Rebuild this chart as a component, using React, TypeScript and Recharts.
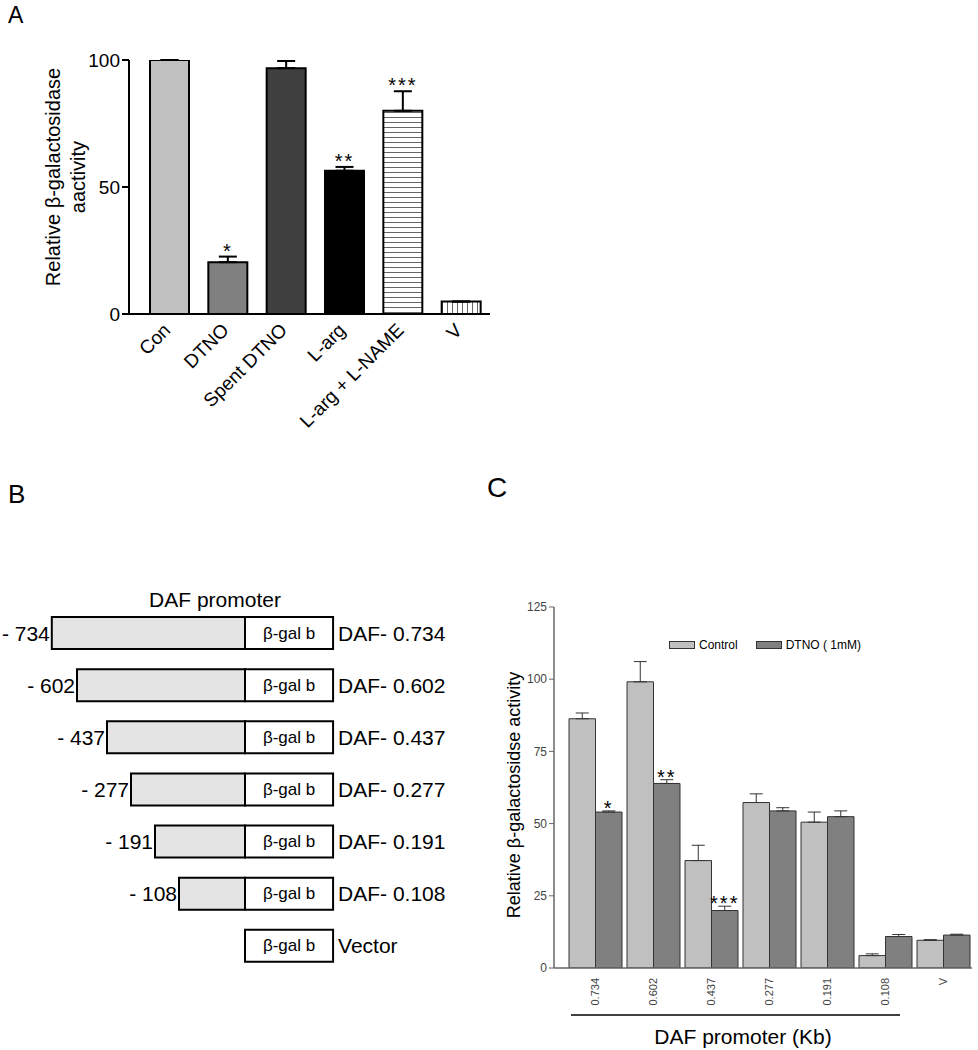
import { Bar, BarChart, Cell, ErrorBar, LabelList, Legend, XAxis, YAxis } from "recharts";

const FONT = "Arial, 'Liberation Sans', Helvetica, sans-serif";

// Panel A: relative beta-galactosidase activity per treatment
const treatments = ["Con", "DTNO", "Spent DTNO", "L-arg", "L-arg + L-NAME", "V"];
const activity = [100, 20.4, 96.8, 56.4, 80, 4.9];
const activityErr = [0, 2.2, 2.8, 1.5, 7.7, 0];
const activitySig = ["", "*", "", "**", "***", ""];

// Panel B: promoter deletion constructs (schematic lengths, not to scale)
const constructNames = ["DAF- 0.734", "DAF- 0.602", "DAF- 0.437", "DAF- 0.277", "DAF- 0.191", "DAF- 0.108", "Vector"];
const constructStart = ["- 734", "- 602", "- 437", "- 277", "- 191", "- 108", ""];
const promoterSpan = [8.05, 7, 5.75, 4.75, 3.75, 2.75, 0];
const reporterSpan = [3.67, 3.67, 3.67, 3.67, 3.67, 3.67, 3.67];

// Panel C: activity of each construct, control vs DTNO
const fragments = ["0.734", "0.602", "0.437", "0.277", "0.191", "0.108", "V"];
const controlMean = [86.3, 99.1, 37.2, 57.3, 50.5, 4.3, 9.6];
const controlErr = [2.0, 7.0, 5.3, 3.0, 3.5, 0.6, 0.2];
const dtnoMean = [54.0, 63.9, 19.9, 54.4, 52.4, 10.9, 11.4];
const dtnoErr = [0.4, 1.3, 1.5, 1.1, 2.0, 0.7, 0.3];
const dtnoSig = ["*", "**", "***", "", "", "", ""];

const A_FILLS = ["#c0c0c0", "#808080", "#404040", "#000000", "url(#hstripe)", "url(#vstripe)"];

const panelA = treatments.map((name, i) => ({
  name,
  value: activity[i],
  err: [0, activityErr[i]],
  star: `${activitySig[i]}|${activity[i]}|${activityErr[i]}`,
}));

const panelB = constructNames.map((name, i) => ({
  name,
  start: constructStart[i],
  promoter: -promoterSpan[i],
  reporter: reporterSpan[i],
  gal: "β-gal b",
}));

const panelC = fragments.map((name, i) => ({
  name,
  control: controlMean[i],
  controlErr: [0, controlErr[i]],
  dtno: dtnoMean[i],
  dtnoErr: [0, dtnoErr[i]],
  star: `${dtnoSig[i]}|${dtnoMean[i]}|${dtnoErr[i]}`,
}));

// star placed just above the error bar cap
function starLabel(fontSize: number, lift: number) {
  return (props: any) => {
    const { viewBox, value } = props;
    if (!value || !viewBox) return null;
    const [sig, v, e] = String(value).split("|");
    if (!sig) return null;
    const { x, y, width, height } = viewBox;
    const top = y - (Number(e) * height) / Number(v);
    return (
      <text x={x + width / 2} y={top + lift} textAnchor="middle" fontSize={fontSize} fontFamily={FONT} letterSpacing={2}>
        {sig}
      </text>
    );
  };
}

function TickA(props: any) {
  const { x, y, payload } = props;
  return (
    <g transform={`translate(${x - 7},${y})`}>
      <text textAnchor="end" transform="rotate(-45)" fontSize={19} fontFamily={FONT} dy="0.7em" fill="#000">
        {payload.value}
      </text>
    </g>
  );
}

function TickC(props: any) {
  const { x, y, payload } = props;
  return (
    <g transform={`translate(${x},${y + 2})`}>
      <text textAnchor="end" transform="rotate(-90)" fontSize={11} fontFamily={FONT} dy="0.35em" fill="#444">
        {payload.value}
      </text>
    </g>
  );
}

function StartText(props: any) {
  const { viewBox, value } = props;
  if (!value || !viewBox) return null;
  const left = Math.min(viewBox.x, viewBox.x + viewBox.width);
  return (
    <text x={left - 2} y={viewBox.y + viewBox.height / 2} textAnchor="end" dominantBaseline="central" fontSize={21} fontFamily={FONT}>
      {value}
    </text>
  );
}

function GalText(props: any) {
  const { viewBox, value } = props;
  if (!value || !viewBox) return null;
  return (
    <text x={viewBox.x + viewBox.width / 2} y={viewBox.y + viewBox.height / 2} textAnchor="middle" dominantBaseline="central" fontSize={17} fontFamily={FONT}>
      {value}
    </text>
  );
}

function NameText(props: any) {
  const { viewBox, value } = props;
  if (!value || !viewBox) return null;
  const right = Math.max(viewBox.x, viewBox.x + viewBox.width);
  return (
    <text x={right + 5} y={viewBox.y + viewBox.height / 2} dominantBaseline="central" fontSize={21} fontFamily={FONT}>
      {value}
    </text>
  );
}

function LegendC(props: any) {
  const { payload } = props;
  return (
    <div style={{ display: "flex", gap: 18, fontFamily: FONT, fontSize: 12, color: "#000" }}>
      {(payload || []).map((p: any) => (
        <div key={p.value} style={{ display: "flex", alignItems: "center", gap: 4 }}>
          <span style={{ display: "inline-block", width: 24, height: 6, background: p.color, border: "1px solid #333" }} />
          <span>{p.value}</span>
        </div>
      ))}
    </div>
  );
}

export default function App() {
  return (
    <div style={{ position: "absolute", left: 0, top: 0, width: 978, height: 1050, background: "#fff", fontFamily: FONT }}>
      {/* panel A */}
      <div style={{ position: "absolute", left: 0, top: 0 }}>
        <BarChart width={500} height={470} data={panelA} margin={{ top: 60, right: 10, bottom: 0, left: 69 }}>
          <defs>
            <pattern id="hstripe" width="6" height="5" patternUnits="userSpaceOnUse">
              <rect width="6" height="5" fill="#fff" />
              <line x1="0" y1="2.5" x2="6" y2="2.5" stroke="#666" strokeWidth={1} />
            </pattern>
            <pattern id="vstripe" width="5" height="6" patternUnits="userSpaceOnUse">
              <rect width="5" height="6" fill="#fff" />
              <line x1="2.5" y1="0" x2="2.5" y2="6" stroke="#666" strokeWidth={1} />
            </pattern>
          </defs>
          <XAxis
            dataKey="name"
            height={156}
            interval={0}
            padding={{ left: 11, right: 0 }}
            axisLine={{ stroke: "#000", strokeWidth: 2 }}
            tickLine={false}
            tick={<TickA />}
          />
          <YAxis
            width={60}
            domain={[0, 100]}
            ticks={[0, 50, 100]}
            allowDataOverflow
            axisLine={{ stroke: "#000", strokeWidth: 2 }}
            tickLine={{ stroke: "#000", strokeWidth: 2 }}
            tickSize={7}
            tick={{ fill: "#000", fontSize: 19, fontFamily: FONT }}
          />
          <Bar dataKey="value" barSize={39} stroke="#000" strokeWidth={2} isAnimationActive={false}>
            {panelA.map((d, i) => (
              <Cell key={d.name} fill={A_FILLS[i]} />
            ))}
            <ErrorBar dataKey="err" width={9} stroke="#000" strokeWidth={2} />
            <LabelList dataKey="star" content={starLabel(20, 1)} />
          </Bar>
        </BarChart>
      </div>

      {/* panel B */}
      <div style={{ position: "absolute", left: 0, top: 607 }}>
        <BarChart
          layout="vertical"
          width={460}
          height={365}
          data={panelB}
          stackOffset="sign"
          margin={{ top: 0, right: 71, bottom: 0, left: 5 }}
          style={{ overflow: "visible" }}
        >
          <XAxis type="number" domain={[-10, 6]} allowDataOverflow hide />
          <YAxis type="category" dataKey="name" hide />
          <Bar dataKey="promoter" stackId="s" barSize={32} fill="#e4e4e4" stroke="#000" strokeWidth={2} isAnimationActive={false}>
            <LabelList dataKey="start" content={StartText} />
          </Bar>
          <Bar dataKey="reporter" stackId="s" barSize={32} fill="#fff" stroke="#000" strokeWidth={2} isAnimationActive={false}>
            <LabelList dataKey="gal" content={GalText} />
            <LabelList dataKey="name" content={NameText} />
          </Bar>
        </BarChart>
      </div>

      {/* panel C */}
      <div style={{ position: "absolute", left: 440, top: 560 }}>
        <BarChart width={538} height={448} data={panelC} barGap={0} margin={{ top: 47, right: 6, bottom: 0, left: 74 }}>
          <XAxis
            dataKey="name"
            height={40}
            interval={0}
            padding={{ left: 12, right: 0 }}
            axisLine={{ stroke: "#666", strokeWidth: 1.5 }}
            tickLine={false}
            tick={<TickC />}
          />
          <YAxis
            width={40}
            domain={[0, 125]}
            ticks={[0, 25, 50, 75, 100, 125]}
            allowDataOverflow
            axisLine={{ stroke: "#666", strokeWidth: 1.5 }}
            tickLine={{ stroke: "#666" }}
            tickSize={5}
            tick={{ fill: "#444", fontSize: 12, fontFamily: FONT }}
          />
          <Legend
            layout="vertical"
            align="center"
            verticalAlign="middle"
            wrapperStyle={{ top: 78, left: 229, width: "auto" }}
            content={<LegendC />}
          />
          <Bar dataKey="control" name="Control" barSize={26.5} fill="#c0c0c0" stroke="#333" strokeWidth={1} isAnimationActive={false}>
            <ErrorBar dataKey="controlErr" width={6.5} stroke="#333" strokeWidth={1} />
          </Bar>
          <Bar dataKey="dtno" name="DTNO ( 1mM)" barSize={26.5} fill="#808080" stroke="#333" strokeWidth={1} isAnimationActive={false}>
            <ErrorBar dataKey="dtnoErr" width={6.5} stroke="#333" strokeWidth={1} />
            <LabelList dataKey="star" content={starLabel(20, 4)} />
          </Bar>
        </BarChart>
      </div>

      {/* panel letters, axis titles and annotations */}
      <svg width={978} height={1050} style={{ position: "absolute", left: 0, top: 0, pointerEvents: "none" }}>
        <g fontFamily={FONT} fill="#000">
          <text x={8} y={23} fontSize={23}>A</text>
          <text x={8} y={503} fontSize={26}>B</text>
          <text x={487} y={497} fontSize={28}>C</text>
          <text transform="translate(53,177) rotate(-90)" textAnchor="middle" dominantBaseline="central" fontSize={20}>
            Relative β-galactosidase
          </text>
          <text transform="translate(78,177) rotate(-90)" textAnchor="middle" dominantBaseline="central" fontSize={20}>
            aactivity
          </text>
          <text x={215} y={607} textAnchor="middle" fontSize={21}>DAF promoter</text>
          <text transform="translate(514,795) rotate(-90)" textAnchor="middle" dominantBaseline="central" fontSize={18}>
            Relative β-galactosidse activity
          </text>
          <line x1={571} y1={1015} x2={900} y2={1015} stroke="#000" strokeWidth={1.5} />
          <text x={743} y={1044} textAnchor="middle" fontSize={21}>DAF promoter (Kb)</text>
        </g>
      </svg>
    </div>
  );
}
